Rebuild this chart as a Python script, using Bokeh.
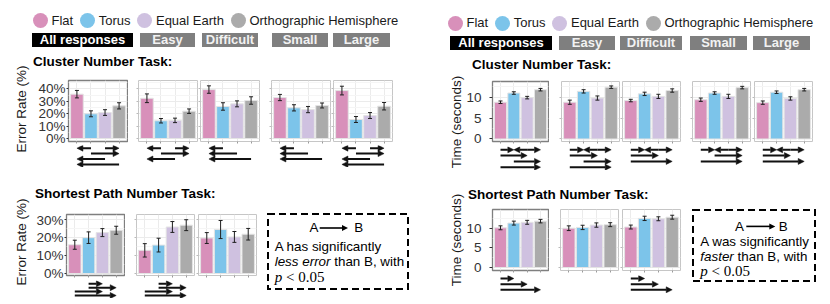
from bokeh.plotting import figure
from bokeh.layouts import row, column
from bokeh.models import (ColumnDataSource, Range1d, FixedTicker, PrintfTickFormatter,
                          Whisker, TeeHead, Arrow, NormalHead, Div, Spacer)
from bokeh.embed import file_html
from bokeh.resources import INLINE
from bokeh.core.validation import silence
from bokeh.core.validation.warnings import MISSING_RENDERERS

silence(MISSING_RENDERERS, True)

# ---------------- data ----------------
CATEGORIES = ["Flat", "Torus", "Equal Earth", "Orthographic Hemisphere"]
COLORS = ["#d890ba", "#7cc4ea", "#cfc1e0", "#ababab"]
GROUPS = ["All responses", "Easy", "Difficult", "Small", "Large"]
F, T, E, O = CATEGORIES

# Error rate (%) - Cluster Number Task
err_cl_all = [35.7, 19.9, 20.9, 26.3];   err_cl_all_ci = [3.0, 2.4, 2.3, 2.5]
err_cl_easy = [32.4, 14.3, 14.6, 22.0];  err_cl_easy_ci = [3.5, 1.8, 1.8, 1.8]
err_cl_diff = [39.4, 25.8, 27.9, 30.6];  err_cl_diff_ci = [3.0, 3.0, 2.4, 3.0]
err_cl_small = [33.0, 24.7, 23.3, 26.6]; err_cl_small_ci = [2.5, 2.5, 2.5, 2.0]
err_cl_large = [38.6, 15.3, 18.5, 26.0]; err_cl_large_ci = [3.5, 2.4, 2.4, 3.0]

# Error rate (%) - Shortest Path Number Task
err_sp_all = [15.9, 19.8, 22.6, 23.9];   err_sp_all_ci = [2.5, 3.2, 2.2, 2.2]
err_sp_easy = [12.8, 15.7, 25.7, 26.7];  err_sp_easy_ci = [3.7, 3.8, 3.0, 3.0]
err_sp_diff = [19.6, 24.3, 20.2, 21.7];  err_sp_diff_ci = [3.0, 5.0, 3.0, 3.2]

# Time (seconds) - Cluster Number Task
time_cl_all = [8.8, 11.0, 9.9, 11.8];    time_cl_all_ci = [0.3, 0.3, 0.3, 0.3]
time_cl_easy = [8.8, 11.4, 9.8, 12.4];   time_cl_easy_ci = [0.5, 0.4, 0.5, 0.3]
time_cl_diff = [9.2, 10.8, 10.2, 11.6];  time_cl_diff_ci = [0.3, 0.4, 0.5, 0.4]
time_cl_small = [9.4, 11.0, 10.2, 12.3]; time_cl_small_ci = [0.4, 0.3, 0.5, 0.3]
time_cl_large = [8.7, 11.2, 9.7, 11.8];  time_cl_large_ci = [0.4, 0.3, 0.4, 0.3]

# Time (seconds) - Shortest Path Number Task
time_sp_all = [10.1, 11.3, 11.5, 11.8];  time_sp_all_ci = [0.5, 0.5, 0.5, 0.45]
time_sp_easy = [10.0, 10.2, 10.8, 10.9]; time_sp_easy_ci = [0.6, 0.55, 0.55, 0.5]
time_sp_diff = [10.3, 12.5, 12.4, 12.8]; time_sp_diff_ci = [0.5, 0.55, 0.5, 0.5]

# significance arrows: (A, B, row)  A -> B
sig_err_cl_all = [(T, F, 0), (E, O, 0), (T, O, 1), (E, F, 2), (O, F, 3)]
sig_err_cl_easy = [(T, F, 0), (E, O, 0), (T, O, 1), (E, F, 2)]
sig_err_cl_diff = [(T, F, 0), (E, F, 1), (O, F, 2)]
sig_err_cl_small = [(T, F, 0), (E, F, 1), (O, F, 2)]
sig_err_cl_large = [(T, F, 0), (E, O, 0), (T, O, 1), (E, F, 2), (O, F, 3)]
sig_err_sp_all = [(T, E, 0), (T, O, 1), (F, E, 2), (F, O, 3)]
sig_err_sp_easy = [(T, E, 0), (T, O, 1), (F, E, 2), (F, O, 3)]
sig_err_sp_diff = []
sig_time_cl_all = [(F, T, 0), (E, T, 0), (E, O, 0), (F, E, 1), (T, O, 2), (F, O, 3)]
sig_time_cl_easy = [(F, T, 0), (E, T, 0), (E, O, 0), (F, E, 1), (T, O, 2), (F, O, 3)]
sig_time_cl_diff = [(F, T, 0), (E, T, 0), (E, O, 0), (F, E, 1), (F, O, 2)]
sig_time_cl_small = [(F, T, 0), (E, T, 0), (E, O, 0), (T, O, 1), (F, O, 2)]
sig_time_cl_large = [(F, T, 0), (E, T, 0), (E, O, 0), (F, E, 1), (F, O, 2)]
sig_time_sp_all = [(F, T, 0), (F, E, 1), (F, O, 2)]
sig_time_sp_easy = []
sig_time_sp_diff = [(F, T, 0), (F, E, 1), (F, O, 2)]

ERR_TICKS_CL = [0, 10, 20, 30, 40]
ERR_TICKS_SP = [0, 10, 20, 30]
TIME_TICKS = [0, 5, 10]

# ---------------- styling / layout ----------------
FONT = "Liberation Sans"


def make_panel(vals, ci, sig, cfg, first, highlight):
    mbl = cfg["frame_lefts"][0] - cfg["lw"] if first else 2
    w = mbl + cfg["fw"] + 1
    xr = Range1d(-0.6, 3.6)
    p = figure(width=w, height=cfg["top"] + cfg["fh"] + cfg["bottom"],
               x_range=xr, y_range=Range1d(*cfg["yr"]),
               output_backend="svg", toolbar_location=None,
               min_border_left=mbl, min_border_right=1,
               min_border_top=cfg["top"], min_border_bottom=cfg["bottom"])
    p.background_fill_color = "white"
    p.border_fill_color = "white"
    xs = list(range(len(CATEGORIES)))
    src = ColumnDataSource(dict(x=xs, top=vals,
                                lo=[v - c for v, c in zip(vals, ci)],
                                hi=[v + c for v, c in zip(vals, ci)],
                                color=COLORS))
    p.vbar(x="x", top="top", bottom=0, width=0.9, fill_color="color",
           line_color="#e4e4e4", line_width=1, source=src)
    wh = Whisker(base="x", lower="lo", upper="hi", source=src, level="annotation",
                 line_color="#1f1f1f", line_width=1,
                 upper_head=TeeHead(size=4, line_color="#1f1f1f", line_width=1),
                 lower_head=TeeHead(size=4, line_color="#1f1f1f", line_width=1))
    p.add_layout(wh)

    xa = p.xaxis[0]
    xa.ticker = FixedTicker(ticks=xs)
    xa.major_label_text_font_size = "0px"
    xa.major_label_text_color = None
    xa.major_label_standoff = 0
    xa.major_tick_out = 2
    xa.major_tick_in = 0
    xa.minor_tick_out = 0
    xa.major_tick_line_color = "#9a9a9a"
    xa.axis_line_color = None

    ya = p.yaxis[0]
    ya.ticker = FixedTicker(ticks=cfg["ticks"], minor_ticks=cfg["minor"])
    ya.axis_line_color = None
    ya.minor_tick_out = 0
    ya.minor_tick_in = 0
    ya.major_tick_in = 0
    if first:
        ya.formatter = PrintfTickFormatter(format=cfg["fmt"])
        ya.major_label_text_font = FONT
        ya.major_label_text_font_size = "13.5px"
        ya.major_label_text_color = "#333333"
        ya.major_tick_out = cfg["tick_out"]
        ya.major_tick_line_color = "#333333"
        ya.major_label_standoff = cfg["label_standoff"]
    else:
        ya.major_label_text_font_size = "0px"
        ya.major_label_text_color = None
        ya.major_label_standoff = 0
        ya.major_tick_out = 2
        ya.major_tick_line_color = "#bbbbbb"

    p.xgrid.ticker = xa.ticker
    p.ygrid.ticker = ya.ticker
    p.xgrid.grid_line_color = "#ebebeb"
    p.ygrid.grid_line_color = "#ebebeb"
    p.ygrid.minor_grid_line_color = "#f5f5f5"
    p.outline_line_color = "#7f7f7f" if highlight else "#c6c6c6"
    p.outline_line_width = 1.3 if highlight else 1

    ah, p0, s = cfg["ah"], cfg["ap0"], cfg["as"]
    a = figure(width=w, height=ah, x_range=xr,
               y_range=Range1d(-(ah - p0) / s, p0 / s),
               x_axis_type=None, y_axis_type=None,
               output_backend="svg", toolbar_location=None,
               min_border_left=mbl, min_border_right=1,
               min_border_top=0, min_border_bottom=0)
    a.outline_line_color = None
    a.background_fill_color = "white"
    a.border_fill_color = "white"
    if sig:
        asrc = ColumnDataSource(dict(
            x0=[CATEGORIES.index(fa) for fa, fb, lv in sig],
            x1=[CATEGORIES.index(fb) for fa, fb, lv in sig],
            y=[-lv for fa, fb, lv in sig]))
        a.add_layout(Arrow(x_start="x0", y_start="y", x_end="x1", y_end="y",
                           source=asrc, line_width=2, line_color="#111111",
                           end=NormalHead(size=6, fill_color="#111111",
                                          line_color="#111111", line_width=0.5)))
    return column(p, a), w


def panel_row(panels, cfg, key=None):
    children = []
    lw = cfg["lw"]
    cursor = 0
    for i, (col, w) in enumerate(panels):
        fig_left = 0 if i == 0 else cfg["frame_lefts"][i] - 2 - lw
        if fig_left > cursor:
            children.append(Spacer(width=fig_left - cursor, height=1))
        children.append(col)
        cursor = fig_left + w
    if key is not None:
        kdiv, kleft, ktop = key
        children.append(Spacer(width=kleft - lw - cursor, height=1))
        children.append(column(Spacer(width=1, height=ktop), kdiv))
    return row(*children)


def legend_div(width, height, pad_left, pad_top):
    items = ""
    for i, (c, lab) in enumerate(zip(COLORS, CATEGORIES)):
        ml = pad_left if i == 0 else 7
        items += (f'<span style="display:inline-block;flex:none;width:15px;height:15px;'
                  f'border-radius:50%;background:{c};margin-left:{ml}px"></span>'
                  f'<span style="margin-left:3.5px;white-space:nowrap">{lab}</span>')
    html = (f'<div style="padding-top:{pad_top}px"><div style="display:flex;align-items:center;'
            f'height:15px;font-family:\'{FONT}\';font-size:13px;color:#1a1a1a">{items}</div></div>')
    return Div(text=html, width=width, height=height, margin=0)


def buttons_div(width, boxes):
    inner = ""
    for (lab, (left, bw)) in zip(GROUPS, boxes):
        bg = "#000000" if lab == GROUPS[0] else "#7f7f7f"
        fg = "#ffffff" if lab == GROUPS[0] else "#f2f2f2"
        inner += (f'<div style="position:absolute;left:{left}px;top:0;width:{bw}px;height:14px;'
                  f'background:{bg};color:{fg};font-family:\'{FONT}\';font-weight:bold;'
                  f'font-size:13px;line-height:14px;text-align:center;white-space:nowrap">{lab}</div>')
    html = f'<div style="position:relative;width:{width}px;height:14px">{inner}</div>'
    return Div(text=html, width=width, height=14, margin=0)


def title_div(text, width, height, left, baseline):
    pad = baseline - 11.43
    html = (f'<div style="padding-left:{left}px;padding-top:{pad:.2f}px;font-family:\'{FONT}\';'
            f'font-weight:bold;font-size:13.5px;line-height:13.5px;color:#000;white-space:nowrap">{text}</div>')
    return Div(text=html, width=width, height=height, margin=0)


def ylabel_div(text, width, height, cx, cy):
    html = (f'<div style="position:relative;width:{width}px;height:{height}px">'
            f'<div style="position:absolute;left:{cx}px;top:{cy}px;'
            f'transform:translate(-50%,-50%) rotate(-90deg);white-space:nowrap;'
            f'font-family:\'{FONT}\';font-size:13.5px;line-height:16px;color:#1a1a1a">{text}</div></div>')
    return Div(text=html, width=width, height=height, margin=0)


def key_div(w, h, ab_y, a_x, b_x, arr_x0, arr_x1, text_left, text_top, lh, line1, line2):
    svg = (f'<svg width="{w}" height="{h}" style="position:absolute;left:0;top:0">'
           f'<rect x="1" y="1" width="{w - 2}" height="{h - 2}" fill="none" stroke="#000" '
           f'stroke-width="2" stroke-dasharray="7 4"/>'
           f'<line x1="{arr_x0}" y1="{ab_y}" x2="{arr_x1 - 5}" y2="{ab_y}" stroke="#000" stroke-width="1.6"/>'
           f'<polygon points="{arr_x1},{ab_y} {arr_x1 - 6},{ab_y - 3} {arr_x1 - 6},{ab_y + 3}" fill="#000"/>'
           '</svg>')
    ab = (f'<div style="position:absolute;left:{a_x - 4.5}px;top:{ab_y - 6.55}px;line-height:13.4px">A</div>'
          f'<div style="position:absolute;left:{b_x - 4.5}px;top:{ab_y - 6.55}px;line-height:13.4px">B</div>')
    txt = (f'<div style="position:absolute;left:{text_left}px;top:{text_top}px;line-height:{lh}px;'
           f'white-space:nowrap">{line1}<br>{line2}<br>'
           f'<span style="font-family:\'Liberation Serif\';font-size:15px"><i>p</i> &lt; 0.05</span></div>')
    html = (f'<div style="position:relative;width:{w}px;height:{h}px;font-family:\'{FONT}\';'
            f'font-size:13.4px;color:#000">{svg}{ab}{txt}</div>')
    return Div(text=html, width=w, height=h, margin=0)


# ---------------- configs ----------------
L1 = dict(yr=(-2.4, 46.7), ticks=ERR_TICKS_CL, minor=[5, 15, 25, 35, 45], fmt="%d%%",
          fw=59, fh=61, top=3, bottom=4, ah=22, ap0=2.7, **{"as": 5.4},
          tick_out=2, label_standoff=1, lw=24,
          frame_lefts=[60, 130, 192, 263, 325])
L2 = dict(yr=(-1.1, 32.6), ticks=ERR_TICKS_SP, minor=[5, 15, 25], fmt="%d%%",
          fw=58, fh=61, top=2, bottom=5, ah=18, ap0=3.3, **{"as": 3.9},
          tick_out=2, label_standoff=1, lw=24,
          frame_lefts=[58, 128, 190])
R1 = dict(yr=(-0.6, 13.76), ticks=TIME_TICKS, minor=[2.5, 7.5, 12.5], fmt="%d",
          fw=58, fh=60, top=2, bottom=5, ah=24, ap0=3.3, **{"as": 5.8},
          tick_out=3, label_standoff=8, lw=48,
          frame_lefts=[75, 146, 207, 277, 339])
R2 = dict(yr=(-0.76, 14.76), ticks=TIME_TICKS, minor=[2.5, 7.5, 12.5], fmt="%d",
          fw=58, fh=61, top=2, bottom=5, ah=18, ap0=3.0, **{"as": 5.65},
          tick_out=3, label_standoff=8, lw=48,
          frame_lefts=[75, 145, 207])

# ---------------- left half (error rate) ----------------
l_row1 = panel_row([
    make_panel(err_cl_all, err_cl_all_ci, sig_err_cl_all, L1, True, True),
    make_panel(err_cl_easy, err_cl_easy_ci, sig_err_cl_easy, L1, False, False),
    make_panel(err_cl_diff, err_cl_diff_ci, sig_err_cl_diff, L1, False, False),
    make_panel(err_cl_small, err_cl_small_ci, sig_err_cl_small, L1, False, False),
    make_panel(err_cl_large, err_cl_large_ci, sig_err_cl_large, L1, False, False),
], L1)
l_key = key_div(142, 77, 15, 47, 91.7, 52.7, 81, 7.7, 25.8, 15.5,
                "A has significantly", "<i>less error</i> than B, with")
l_row2 = panel_row([
    make_panel(err_sp_all, err_sp_all_ci, sig_err_sp_all, L2, True, True),
    make_panel(err_sp_easy, err_sp_easy_ci, sig_err_sp_easy, L2, False, False),
    make_panel(err_sp_diff, err_sp_diff_ci, sig_err_sp_diff, L2, False, False),
], L2, key=(l_key, 259, 1))

left_half = column(
    legend_div(407, 25, 25, 5.3),
    buttons_div(407, [(24, 101), (132, 55), (194, 56), (264, 56), (325, 57)]),
    row(ylabel_div("Error Rate (%)", 24, 120, 13.5, 61.5),
        column(title_div("Cluster Number Task:", 383, 30, 1, 19.7), l_row1)),
    row(ylabel_div("Error Rate (%)", 24, 131, 13.5, 75),
        column(title_div("Shortest Path Number Task:", 383, 45, 3, 31.3), l_row2)),
)

# ---------------- right half (time) ----------------
r_row1 = panel_row([
    make_panel(time_cl_all, time_cl_all_ci, sig_time_cl_all, R1, True, True),
    make_panel(time_cl_easy, time_cl_easy_ci, sig_time_cl_easy, R1, False, False),
    make_panel(time_cl_diff, time_cl_diff_ci, sig_time_cl_diff, R1, False, False),
    make_panel(time_cl_small, time_cl_small_ci, sig_time_cl_small, R1, False, False),
    make_panel(time_cl_large, time_cl_large_ci, sig_time_cl_large, R1, False, False),
], R1)
r_key = key_div(124, 73, 17.4, 47.5, 91.3, 54.3, 83.3, 8.3, 24.8, 15.3,
                "A was significantly", "<i>faster</i> than B, with")
r_row2 = panel_row([
    make_panel(time_sp_all, time_sp_all_ci, sig_time_sp_all, R2, True, True),
    make_panel(time_sp_easy, time_sp_easy_ci, sig_time_sp_easy, R2, False, False),
    make_panel(time_sp_diff, time_sp_diff_ci, sig_time_sp_diff, R2, False, False),
], R2, key=(r_key, 277, 2))

right_half = column(
    legend_div(401, 28, 33, 7.5),
    buttons_div(401, [(35, 102), (144, 56), (205, 62), (275, 57), (338, 57)]),
    row(ylabel_div("Time (seconds)", 48, 120, 42, 71.7),
        column(title_div("Cluster Number Task:", 353, 29, 9, 19.0), r_row1)),
    row(ylabel_div("Time (seconds)", 48, 121, 42, 70),
        column(title_div("Shortest Path Number Task:", 353, 37, 5, 29.0), r_row2)),
)

root = column(Spacer(width=1, height=8),
              row(Spacer(width=8, height=1), left_half, right_half))

open("out.html", "w").write(file_html(root, INLINE, "Map projections study"))
